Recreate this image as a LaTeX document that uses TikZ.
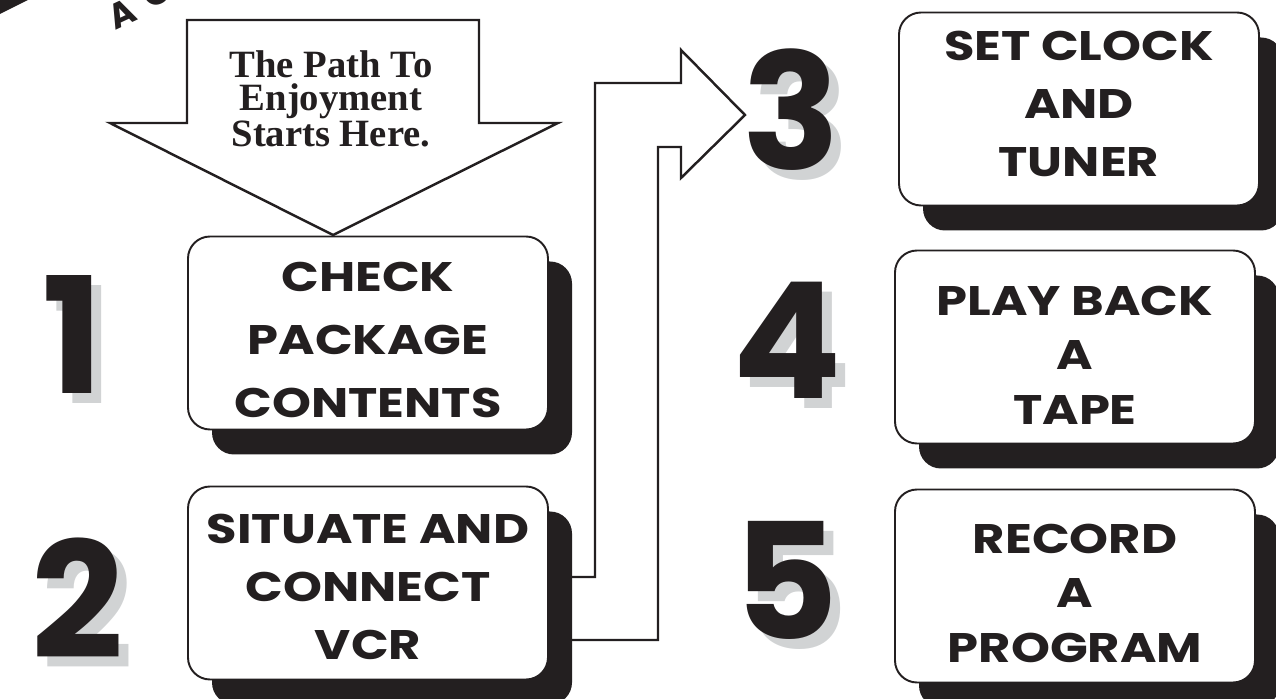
\documentclass[tikz,border=0pt]{standalone}
\usepackage{fontspec}
\setmainfont{Liberation Serif}
\newfontfamily\futura{Poppins}[FakeStretch=1.2]
\newfontfamily\numfont{Poppins}
\usetikzlibrary{shadows}
\definecolor{ink}{HTML}{231F20}
\definecolor{shade}{HTML}{D1D3D4}
\newcommand{\unitsize}{0.02cm}

\begin{document}
\begin{tikzpicture}
\clip (0*\unitsize,0*\unitsize) rectangle (1276*\unitsize,-699*\unitsize);
\tikzstyle{stepbox}=[draw=ink,
                     line width=1.1pt,
                     fill=white,
                     rounded corners=22*\unitsize,
                     minimum width  = 360*\unitsize,
                     minimum height = 193*\unitsize,
                     drop shadow={shadow xshift=24*\unitsize, shadow yshift=-25*\unitsize, fill=ink, opacity=1}
                     ]
\tikzstyle{steptext}=[align=center, inner sep=0pt, text=ink, font=\futura\bfseries\fontsize{23.5}{33}\selectfont]
\tikzstyle{bignum}=[inner sep=0pt, text=ink, font=\numfont\bfseries\fontsize{92}{92}\selectfont]
\tikzstyle{numshade}=[bignum, text=shade]
\tikzstyle{blockarrow}=[draw=ink, line width=1.4pt, miter limit=20]

% corner banner
\fill[ink] (0*\unitsize,0*\unitsize) -- (28*\unitsize,0*\unitsize) -- (0*\unitsize,-14*\unitsize) -- cycle;
\node[rotate=25, inner sep=0pt, text=ink, font=\numfont\bfseries\fontsize{20}{20}\selectfont] (guidea) at (122*\unitsize,-14*\unitsize) {A};
\node[rotate=25, inner sep=0pt, text=ink, font=\numfont\bfseries\fontsize{20}{20}\selectfont] (guideb) at (156*\unitsize,7*\unitsize) {G};

% start arrow
\draw[blockarrow, fill=white] (187*\unitsize,-20*\unitsize) -- (479*\unitsize,-20*\unitsize) -- (479*\unitsize,-123*\unitsize) -- (558*\unitsize,-123*\unitsize) -- (333*\unitsize,-235*\unitsize) -- (110*\unitsize,-123*\unitsize) -- (187*\unitsize,-123*\unitsize) -- cycle;
\node[align=center, text=ink, font=\bfseries\fontsize{22}{19}\selectfont] (start) at (331*\unitsize,-99*\unitsize) {The Path To\\Enjoyment\\Starts Here.};

% steps
\node[stepbox] (check)   at (368*\unitsize,-333*\unitsize)  {};
\node[stepbox] (connect) at (368*\unitsize,-583*\unitsize)  {};
\node[stepbox] (clock)   at (1079*\unitsize,-109*\unitsize) {};
\node[stepbox] (play)    at (1075*\unitsize,-347*\unitsize) {};
\node[stepbox] (record)  at (1075*\unitsize,-586*\unitsize) {};

\node[steptext, font=\futura\bfseries\fontsize{23.5}{36}\selectfont] (checktext) at (368*\unitsize,-340*\unitsize) {CHECK\\PACKAGE\\CONTENTS};
\node[steptext] (connecttext) at (368*\unitsize,-587*\unitsize)  {SITUATE AND\\CONNECT\\VCR};
\node[steptext] (clocktext)   at (1079*\unitsize,-104*\unitsize) {SET CLOCK\\AND\\TUNER};
\node[steptext, font=\futura\bfseries\fontsize{23.5}{31}\selectfont] (playtext)   at (1075*\unitsize,-355*\unitsize) {PLAY BACK\\A\\TAPE};
\node[steptext, font=\futura\bfseries\fontsize{23.5}{31}\selectfont] (recordtext) at (1075*\unitsize,-593*\unitsize) {RECORD\\A\\PROGRAM};

% bent arrow from step 2 to step 3
\draw[blockarrow] (595*\unitsize,-577*\unitsize) -- (595*\unitsize,-83*\unitsize) -- (681*\unitsize,-83*\unitsize) -- (681*\unitsize,-50*\unitsize) -- (745*\unitsize,-115*\unitsize) -- (681*\unitsize,-178*\unitsize) -- (681*\unitsize,-147*\unitsize) -- (658*\unitsize,-147*\unitsize) -- (658*\unitsize,-640*\unitsize) -- (558*\unitsize,-640*\unitsize) -- (558*\unitsize,-577*\unitsize) -- cycle;

% step numbers
\node[numshade] (oneshade)   at (83*\unitsize,-345*\unitsize)  {1};
\node[bignum]   (one)        at (73*\unitsize,-335*\unitsize)  {1};
\node[numshade] (twoshade)   at (88*\unitsize,-608*\unitsize)  {2};
\node[bignum]   (two)        at (78*\unitsize,-598*\unitsize)  {2};
\node[numshade] (threeshade) at (801*\unitsize,-120*\unitsize) {3};
\node[bignum]   (three)      at (791*\unitsize,-110*\unitsize) {3};
\node[numshade] (fourshade)  at (797*\unitsize,-350*\unitsize) {4};
\node[bignum]   (four)       at (787*\unitsize,-340*\unitsize) {4};
\node[numshade] (fiveshade)  at (796*\unitsize,-590*\unitsize) {5};
\node[bignum]   (five)       at (786*\unitsize,-580*\unitsize) {5};
\end{tikzpicture}
\end{document}
